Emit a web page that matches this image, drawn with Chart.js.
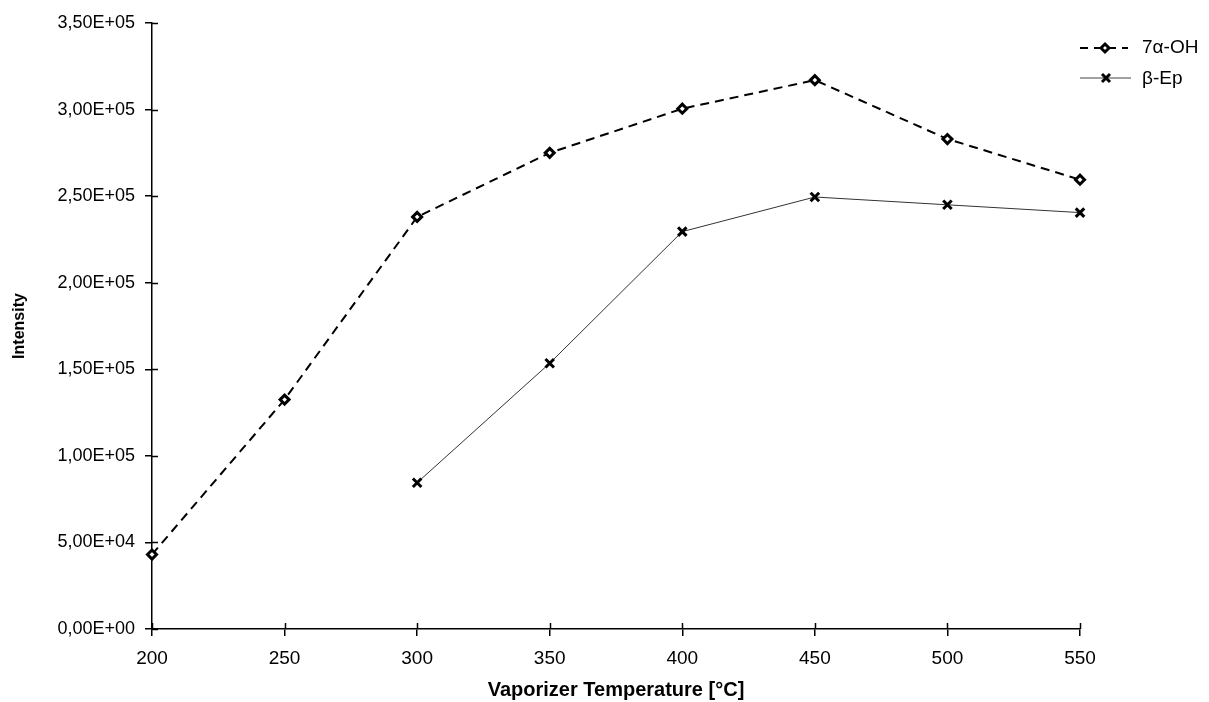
<!DOCTYPE html>
<html>
<head>
<meta charset="utf-8">
<script src="https://cdn.jsdelivr.net/npm/chart.js@4"></script>
<style>
  html, body { margin: 0; padding: 0; background: #fff; }
  #wrap { width: 1209px; height: 702px; }
</style>
</head>
<body>
<div id="wrap"><canvas id="myChart"></canvas></div>
<script>
var temps = [200, 250, 300, 350, 400, 450, 500, 550];
var ohValues = [43000, 132500, 238000, 275000, 300500, 317000, 283000, 259500];
var epValues = [null, null, 84500, 153500, 229500, 249500, 245000, 240500];
var seriesNames = ["7\u03b1-OH", "\u03b2-Ep"];
var yTicks = [0, 50000, 100000, 150000, 200000, 250000, 300000, 350000];

var FONT = "'Liberation Sans', Arial, sans-serif";

function toPoints(vals) {
  var pts = [];
  for (var i = 0; i < temps.length; i++) {
    if (vals[i] !== null) pts.push({ x: temps[i], y: vals[i] });
  }
  return pts;
}

function fmtSci(v) {
  if (v === 0) return "0,00E+00";
  var e = Math.floor(Math.log10(v));
  var m = v / Math.pow(10, e);
  return m.toFixed(2).replace(".", ",") + "E+" + (e < 10 ? "0" + e : e);
}

// ticks crossing the axis lines (inner half)
var innerTicks = {
  id: "innerTicks",
  afterDraw: function (chart) {
    var c = chart.ctx, xs = chart.scales.x, ys = chart.scales.y;
    c.save();
    c.strokeStyle = "#000";
    c.lineWidth = 1.5;
    temps.forEach(function (t) {
      var px = Math.round(xs.getPixelForValue(t)) + 0.5;
      c.beginPath(); c.moveTo(px, ys.bottom); c.lineTo(px, ys.bottom - 6); c.stroke();
    });
    yTicks.forEach(function (v) {
      var py = Math.round(ys.getPixelForValue(v)) + 0.5;
      c.beginPath(); c.moveTo(xs.left, py); c.lineTo(xs.left + 6, py); c.stroke();
    });
    c.restore();
  }
};

// legend drawn like the original (line sample + marker + text)
var sideLegend = {
  id: "sideLegend",
  afterDraw: function (chart) {
    var c = chart.ctx;
    c.save();
    c.font = "19px " + FONT;
    c.textBaseline = "middle";
    c.fillStyle = "#000";
    // 7a-OH
    c.strokeStyle = "#000";
    c.lineWidth = 2;
    c.setLineDash([8, 6]);
    c.beginPath(); c.moveTo(1080, 48); c.lineTo(1128, 48); c.stroke();
    c.setLineDash([]);
    c.lineWidth = 3;
    c.beginPath();
    c.moveTo(1105, 44); c.lineTo(1109, 48); c.lineTo(1105, 52); c.lineTo(1101, 48); c.closePath();
    c.fillStyle = "#fff"; c.fill(); c.stroke();
    c.fillStyle = "#000";
    c.fillText(seriesNames[0], 1142, 48);
    // b-Ep
    c.strokeStyle = "#444";
    c.lineWidth = 1;
    c.beginPath(); c.moveTo(1080, 78); c.lineTo(1131, 78); c.stroke();
    c.strokeStyle = "#000";
    c.lineWidth = 3;
    c.beginPath();
    c.moveTo(1102, 74); c.lineTo(1110, 82); c.moveTo(1110, 74); c.lineTo(1102, 82); c.stroke();
    c.fillText(seriesNames[1], 1142, 79);
    c.restore();
  }
};

var ctx = document.getElementById("myChart").getContext("2d");

var data = {
  datasets: [
    {
      label: seriesNames[0],
      data: toPoints(ohValues),
      borderColor: "#000",
      borderWidth: 2,
      borderDash: [9, 6],
      pointStyle: "rectRot",
      pointRadius: 4.5,
      pointBorderWidth: 3,
      pointBackgroundColor: "#fff",
      pointBorderColor: "#000",
      tension: 0,
      clip: false,
    },
    {
      label: seriesNames[1],
      data: toPoints(epValues),
      borderColor: "#333",
      borderWidth: 1,
      pointStyle: "crossRot",
      pointRadius: 6,
      pointBorderWidth: 3,
      pointBorderColor: "#000",
      tension: 0,
      clip: false,
    },
  ],
};

var options = {
  responsive: true,
  maintainAspectRatio: false,
  animation: false,
  layout: { padding: { top: 23, right: 129, bottom: 0, left: 6 } },
  plugins: {
    legend: { display: false },
    tooltip: { enabled: false },
  },
  scales: {
    x: {
      type: "linear",
      min: 200,
      max: 550,
      afterFit: function (s) { s.height = 73; },
      border: { color: "#000", width: 1.5 },
      grid: { drawOnChartArea: false, drawTicks: true, tickLength: 7, color: "#000", lineWidth: 1.5 },
      ticks: {
        stepSize: 50,
        padding: 11,
        color: "#000",
        font: { family: FONT, size: 19 },
      },
      title: {
        display: true,
        text: "Vaporizer Temperature [\u00b0C]",
        color: "#000",
        padding: { top: 7, bottom: 0 },
        font: { family: FONT, size: 20, weight: "bold" },
      },
    },
    y: {
      min: 0,
      max: 350000,
      afterFit: function (s) { s.width = 146; },
      border: { color: "#000", width: 1.5 },
      grid: { drawOnChartArea: false, drawTicks: true, tickLength: 7, color: "#000", lineWidth: 1.5 },
      afterBuildTicks: function (s) { s.ticks = yTicks.map(function (v) { return { value: v }; }); },
      ticks: {
        padding: 10,
        color: "#000",
        font: { family: FONT, size: 18 },
        callback: function (value) { return fmtSci(value); },
      },
      title: {
        display: true,
        text: "Intensity",
        color: "#000",
        padding: { bottom: 4 },
        font: { family: FONT, size: 16, weight: "bold" },
      },
    },
  },
};

var myChart = new Chart(ctx, {
  type: "line",
  data: data,
  options: options,
  plugins: [innerTicks, sideLegend],
});
</script>
</body>
</html>
